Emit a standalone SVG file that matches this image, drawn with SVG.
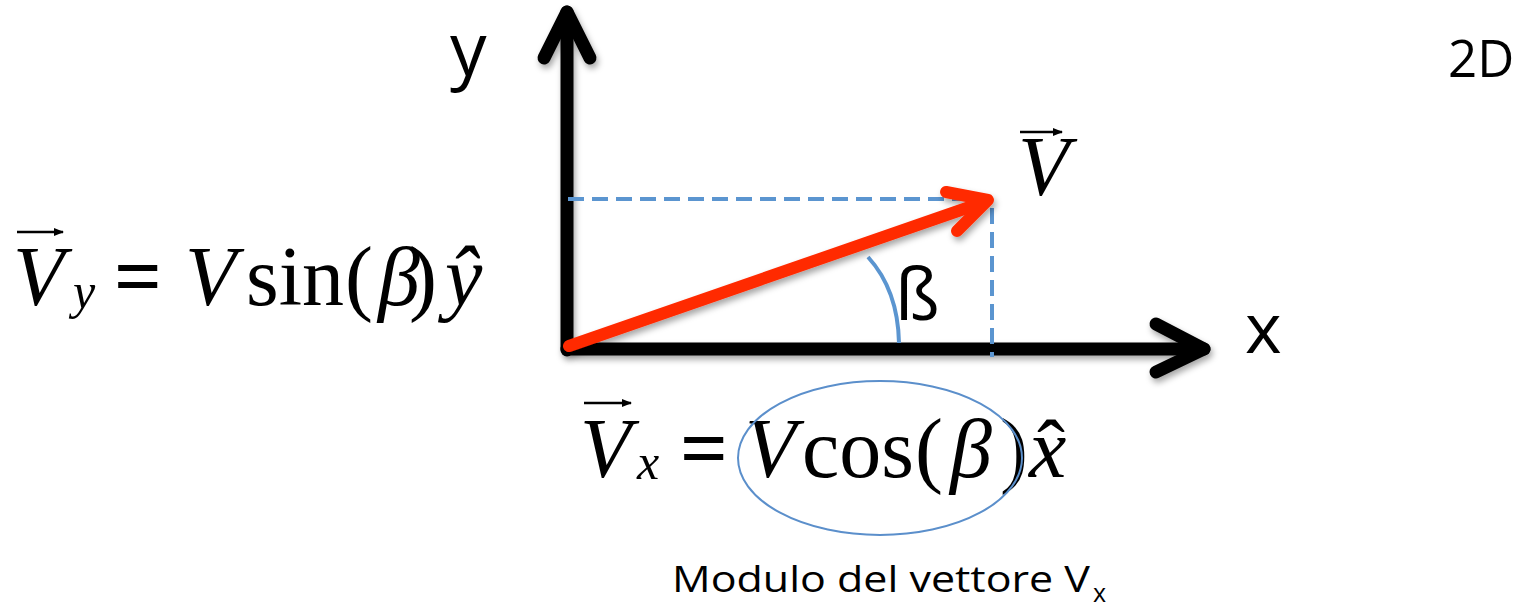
<svg xmlns="http://www.w3.org/2000/svg" width="1525" height="607" viewBox="0 0 1525 607">
<defs>
<filter id="sh" x="-10%" y="-10%" width="120%" height="130%"><feDropShadow dx="2" dy="4" stdDeviation="3" flood-color="#000" flood-opacity="0.35"/></filter>
<marker id="ah" viewBox="0 0 10 10" refX="9" refY="5" markerWidth="10" markerHeight="10" markerUnits="userSpaceOnUse" orient="auto"><path d="M0,1 L10,5 L0,9 Z" fill="#000"/></marker>
</defs>
<style>
.axis{stroke:#000;stroke-width:13;fill:none;stroke-linecap:round;stroke-linejoin:round}
.vec{stroke:#FF2A00;stroke-width:12;fill:none;stroke-linecap:round;stroke-linejoin:round}
.dash{stroke:#5B95D0;stroke-width:4;stroke-dasharray:16 8;fill:none}
.math{font-family:"Liberation Serif",serif;font-size:84px;fill:#000}
.sub{font-family:"Liberation Serif",serif;font-size:50px;font-style:italic;fill:#000}
.eq{font-family:"Liberation Serif",serif;font-size:84px;font-weight:bold;fill:#000}
.it{font-style:italic}
.sans{font-family:"Open Sans","Liberation Sans",sans-serif;fill:#000}
.ov{stroke:#000;stroke-width:2.5}
</style>
<rect width="1525" height="607" fill="#fff"/>
<g id="connectors">
<g filter="url(#sh)">
<path class="axis" d="M567,350 V12"/>
<path class="axis" d="M544,58 L567,12 L590,58"/>
<path class="axis" d="M567,349 H1204"/>
<path class="axis" d="M1156,324 L1204,349 L1156,372"/>
</g>
<path class="dash" d="M568,199 H990"/>
<path class="dash" d="M992,208 V357"/>
<path d="M868,257 Q898,290 899,343" stroke="#5B95D0" stroke-width="4" fill="none"/>
<g filter="url(#sh)">
<path class="vec" d="M569,346 L984,202"/>
<path class="vec" d="M946,192 L988,200 L957,231"/>
</g>
</g>
<g id="label-y"><text class="sans" x="450" y="75" style="font-size:73px">y</text></g>
<g id="label-x"><text class="sans" x="1245" y="353" style="font-size:70px">x</text></g>
<g id="label-2D"><text class="sans" x="1448" y="77" style="font-size:51px">2D</text></g>
<g id="label-beta"><text class="sans" x="895" y="320" style="font-size:72px">ß</text></g>
<g id="label-V">
<line class="ov" x1="1020" y1="132" x2="1062" y2="132" marker-end="url(#ah)"/>
<text class="math it" x="1018" y="195">V</text>
</g>
<g id="formula-vy">
<line class="ov" x1="17" y1="232" x2="63" y2="232" marker-end="url(#ah)"/>
<text class="math it" x="13" y="305">V</text>
<text class="sub" x="73" y="308">y</text>
<text class="eq" x="114" y="305">=</text>
<text class="math" x="185" y="305"><tspan class="it">V</tspan><tspan x="246">sin</tspan><tspan x="345">(</tspan><tspan class="it" x="378">β</tspan><tspan x="409">)</tspan><tspan class="it" x="445">ŷ</tspan></text>
</g>
<g id="formula-vx">
<line class="ov" x1="584" y1="403" x2="631" y2="403" marker-end="url(#ah)"/>
<text class="math it" x="580" y="477">V</text>
<text class="sub" x="637" y="479">x</text>
<text class="eq" x="680" y="477">=</text>
<text class="math" x="745" y="477"><tspan class="it">V</tspan><tspan x="802">cos</tspan><tspan x="915">(</tspan><tspan class="it" x="950">β</tspan><tspan x="1000">)</tspan><tspan class="it" x="1029">x</tspan></text>
<text class="math" x="1037" y="478">ˆ</text>
<ellipse cx="880" cy="458" rx="142" ry="77" fill="none" stroke="#5B8FCB" stroke-width="2"/>
</g>
<g id="caption">
<text class="sans" x="672" y="592" style="font-size:36px" textLength="418" lengthAdjust="spacingAndGlyphs">Modulo del vettore V</text>
<text class="sans" x="1093" y="602" style="font-size:25px">x</text>
</g>
</svg>
